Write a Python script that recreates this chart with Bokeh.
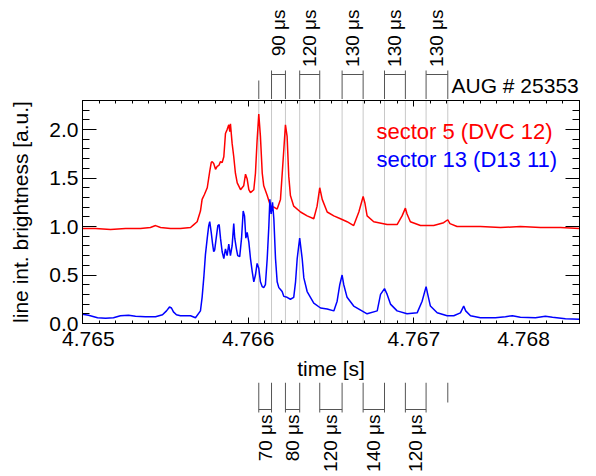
import math
from bokeh.plotting import figure
from bokeh.layouts import column
from bokeh.models import (ColumnDataSource, FixedTicker, PrintfTickFormatter,
                          CustomJSTickFormatter, LinearAxis, Label, LabelSet, Range1d)
from bokeh.core.properties import value
from bokeh.embed import file_html
from bokeh.resources import INLINE

FONT = "Liberation Sans"

# ---------------- data ----------------
time_red = [4.765000, 4.765078, 4.765169, 4.765260, 4.765350, 4.765410, 4.765441, 4.765471,
            4.765531, 4.765591, 4.765652, 4.765672, 4.765692, 4.765712, 4.765722, 4.765736,
            4.765753, 4.765768, 4.765777, 4.765783, 4.765792, 4.765803, 4.765813, 4.765823,
            4.765833, 4.765843, 4.765853, 4.765863, 4.765873, 4.765883, 4.765889, 4.765893,
            4.765903, 4.765913, 4.765923, 4.765934, 4.765954, 4.765973, 4.765984, 4.765994,
            4.766004, 4.766014, 4.766034, 4.766044, 4.766054, 4.766064, 4.766074, 4.766085,
            4.766094, 4.766115, 4.766135, 4.766155, 4.766175, 4.766195, 4.766215, 4.766225,
            4.766235, 4.766245, 4.766255, 4.766275, 4.766316, 4.766356, 4.766396, 4.766416,
            4.766432, 4.766447, 4.766477, 4.766517, 4.766557, 4.766597, 4.766637, 4.766668,
            4.766694, 4.766705, 4.766718, 4.766758, 4.766839, 4.766899, 4.766929, 4.766949,
            4.766959, 4.766979, 4.767040, 4.767120, 4.767180, 4.767205, 4.767218, 4.767261,
            4.767402, 4.767523, 4.767643, 4.767764, 4.767885, 4.768000]
sector5 = [0.98, 0.98, 0.97, 0.98, 0.98, 0.99, 1.01, 0.99,
           0.98, 0.98, 0.99, 1.02, 1.05, 1.16, 1.28, 1.33,
           1.40, 1.57, 1.66, 1.67, 1.65, 1.59, 1.62, 1.63,
           1.67, 1.66, 1.72, 1.96, 2.00, 2.05, 1.98, 2.06,
           1.86, 1.72, 1.55, 1.45, 1.38, 1.42, 1.54, 1.49,
           1.38, 1.35, 1.38, 1.55, 1.89, 2.16, 1.93, 1.55,
           1.42, 1.32, 1.21, 1.20, 1.18, 1.28, 1.79, 2.05,
           1.93, 1.52, 1.32, 1.21, 1.15, 1.11, 1.08, 1.21,
           1.40, 1.28, 1.15, 1.11, 1.08, 1.05, 1.01, 1.15,
           1.31, 1.24, 1.11, 1.05, 1.02, 1.02, 1.11, 1.19,
           1.13, 1.05, 1.01, 1.01, 1.04, 1.07, 1.03, 1.00,
           1.00, 0.99, 1.00, 0.99, 0.99, 0.98]

time_blue = [4.765000, 4.765036, 4.765091, 4.765139, 4.765187, 4.765229, 4.765278, 4.765320,
             4.765380, 4.765441, 4.765483, 4.765507, 4.765525, 4.765537, 4.765549, 4.765567,
             4.765591, 4.765652, 4.765682, 4.765712, 4.765722, 4.765732, 4.765742, 4.765753,
             4.765762, 4.765768, 4.765777, 4.765786, 4.765792, 4.765798, 4.765807, 4.765817,
             4.765825, 4.765833, 4.765843, 4.765853, 4.765863, 4.765873, 4.765883, 4.765893,
             4.765903, 4.765913, 4.765919, 4.765929, 4.765937, 4.765949, 4.765960, 4.765970,
             4.765978, 4.765986, 4.765994, 4.766004, 4.766014, 4.766024, 4.766034, 4.766044,
             4.766054, 4.766064, 4.766074, 4.766085, 4.766094, 4.766104, 4.766115, 4.766125,
             4.766131, 4.766139, 4.766147, 4.766155, 4.766165, 4.766175, 4.766185, 4.766195,
             4.766205, 4.766215, 4.766235, 4.766255, 4.766275, 4.766286, 4.766296, 4.766306,
             4.766311, 4.766326, 4.766336, 4.766356, 4.766376, 4.766396, 4.766437, 4.766477,
             4.766517, 4.766537, 4.766553, 4.766567, 4.766577, 4.766597, 4.766637, 4.766718,
             4.766779, 4.766799, 4.766823, 4.766839, 4.766859, 4.766899, 4.766959, 4.767020,
             4.767050, 4.767074, 4.767084, 4.767100, 4.767141, 4.767201, 4.767241, 4.767281,
             4.767301, 4.767313, 4.767342, 4.767402, 4.767492, 4.767553, 4.767595, 4.767643,
             4.767734, 4.767794, 4.767837, 4.767915, 4.768000]
sector13 = [0.095, 0.085, 0.06, 0.055, 0.06, 0.08, 0.085, 0.075,
            0.07, 0.07, 0.09, 0.13, 0.17, 0.16, 0.12, 0.09,
            0.08, 0.08, 0.06, 0.13, 0.27, 0.47, 0.71, 0.88,
            1.01, 1.05, 0.94, 0.81, 0.74, 0.76, 0.88, 1.01,
            1.02, 0.88, 0.74, 0.67, 0.77, 0.70, 0.82, 0.70,
            0.80, 1.03, 0.88, 0.77, 0.70, 0.69, 0.88, 1.16,
            1.11, 0.88, 0.94, 0.84, 0.67, 0.54, 0.43, 0.50,
            0.62, 0.57, 0.43, 0.38, 0.37, 0.40, 0.67, 1.01,
            1.28, 1.13, 1.25, 1.08, 0.67, 0.43, 0.37, 0.35,
            0.33, 0.28, 0.27, 0.25, 0.27, 0.43, 0.67, 0.81,
            0.88, 0.67, 0.47, 0.33, 0.27, 0.21, 0.16, 0.15,
            0.13, 0.23, 0.40, 0.50, 0.40, 0.27, 0.18, 0.10,
            0.13, 0.30, 0.36, 0.30, 0.20, 0.13, 0.10, 0.11,
            0.23, 0.38, 0.30, 0.18, 0.11, 0.08, 0.08, 0.11,
            0.18, 0.13, 0.08, 0.06, 0.06, 0.07, 0.08, 0.065,
            0.06, 0.075, 0.065, 0.05, 0.045]

# times of the marked events (grey vertical lines)
event_times = [4.766064, 4.766141, 4.766225, 4.766311, 4.766432, 4.766567,
               4.766694, 4.766823, 4.766949, 4.767074, 4.767205]
top_pairs = [(1, 2), (3, 4), (5, 6), (7, 8), (9, 10)]
top_labels = ["90 μs", "120 μs", "130 μs", "130 μs", "130 μs"]
bottom_pairs = [(0, 1), (2, 3), (4, 5), (6, 7), (8, 9)]
bottom_labels = ["70 μs", "80 μs", "120 μs", "140 μs", "120 μs"]

x_major = [4.765, 4.766, 4.767, 4.768]
y_major = [0.0, 0.5, 1.0, 1.5, 2.0]
x_minor = [round(4.765 + 0.0001 * i, 4) for i in range(31)]
y_minor = [round(0.1 * i, 1) for i in range(24)]

series_names = ["sector 5 (DVC 12)", "sector 13 (D13 11)"]
shot_label = "AUG # 25353"
x_title = "time [s]"
y_title = "line int. brightness [a.u.]"

# ---------------- layout constants (pixels) ----------------
W, H = 596, 476
X0, X1 = 4.765, 4.768
Y0, Y1 = 0.0, 2.3
FRAME_LEFT, FRAME_RIGHT = 82, 579
FRAME_TOP, FRAME_BOTTOM = 100, 326
TOP_H = FRAME_TOP - 1               # top strip: page rows 0..99
MAIN_BOTTOM = 382                   # main plot: page rows 99..382
MAIN_H = MAIN_BOTTOM - TOP_H
BOT_H = H - MAIN_BOTTOM             # bottom strip: page rows 382..476
SEC_PER_PX = (X1 - X0) / (FRAME_RIGHT - FRAME_LEFT)
GREY_LIGHT, GREY_DARK = "#c8c8c8", "#555555"
NBSP = "\u00a0"


def row_to_y(py):
    return Y1 - (py - FRAME_TOP) * (Y1 - Y0) / (FRAME_BOTTOM - FRAME_TOP)


# ---------------- main plot ----------------
p = figure(width=W, height=MAIN_H, x_range=Range1d(X0, X1), y_range=Range1d(Y0, Y1),
           output_backend="svg", toolbar_location=None,
           min_border_left=FRAME_LEFT, min_border_right=W - FRAME_RIGHT,
           min_border_top=FRAME_TOP - TOP_H, min_border_bottom=MAIN_BOTTOM - FRAME_BOTTOM,
           x_axis_label=x_title, y_axis_label=y_title)
p.background_fill_color = "white"
p.border_fill_color = "white"
p.outline_line_color = None
p.grid.visible = False


def strip(height, row_top, row_bottom):
    s = figure(width=W, height=height, x_range=p.x_range,
               y_range=Range1d(row_bottom, row_top),   # y measured in page rows
               x_axis_location=None, y_axis_location=None,
               output_backend="svg", toolbar_location=None,
               min_border_left=FRAME_LEFT, min_border_right=W - FRAME_RIGHT,
               min_border_top=0, min_border_bottom=0)
    s.outline_line_color = None
    s.background_fill_color = "white"
    s.border_fill_color = "white"
    for g in s.grid:
        g.visible = False
    return s


# grey event lines behind the data
n = len(event_times)
p.segment(x0=event_times, y0=[Y0] * n, x1=event_times, y1=[Y1] * n,
          line_color=GREY_LIGHT, line_width=1)

p.line(time_red, sector5, line_color="#ff0000", line_width=1.5)
p.line(time_blue, sector13, line_color="#0000ff", line_width=1.5)

xt = FixedTicker(ticks=x_major, minor_ticks=x_minor)
yt = FixedTicker(ticks=y_major, minor_ticks=y_minor)


def style_axis(ax, ticker, major_in, minor_in, labels):
    ax.ticker = ticker
    ax.axis_line_color = "black"
    ax.axis_line_width = 1
    ax.major_tick_in = major_in
    ax.major_tick_out = 0
    ax.minor_tick_in = minor_in
    ax.minor_tick_out = 0
    ax.major_tick_line_color = "black"
    ax.minor_tick_line_color = "black"
    ax.major_label_text_font = FONT
    ax.major_label_text_color = "black"
    ax.axis_label_text_font = FONT
    ax.axis_label_text_font_size = "21px"
    ax.axis_label_text_font_style = "normal"
    ax.axis_label_text_color = "black"
    if labels:
        ax.major_label_text_font_size = "21px"
    else:
        ax.formatter = CustomJSTickFormatter(code="return ''")
        ax.major_label_text_font_size = "0px"
        ax.major_label_standoff = 0


ly = p.yaxis[0]
style_axis(ly, yt, 14, 7, True)
ly.formatter = PrintfTickFormatter(format="%.1f")
ly.major_label_standoff = 4
ly.axis_label_standoff = 14

bx = p.xaxis[0]
style_axis(bx, xt, 6, 3, True)
bx.formatter = PrintfTickFormatter(format="%.3f")
bx.major_label_standoff = 3
bx.axis_label_standoff = 4
# the end labels sit inside the axis span, as in the original figure
bx.major_label_overrides = {4.765: NBSP * 2 + "4.765", 4.768: "4.768" + NBSP * 8}

top_ax = LinearAxis()
style_axis(top_ax, xt, 6, 3, False)
p.add_layout(top_ax, "above")

right_ax = LinearAxis()
style_axis(right_ax, yt, 14, 7, False)
p.add_layout(right_ax, "right")

legend_x = X0 + (376 - FRAME_LEFT) * SEC_PER_PX
p.add_layout(Label(x=legend_x, y=row_to_y(131), text=series_names[0], text_align="left",
                   text_baseline="middle", text_font=FONT, text_font_size="22px",
                   text_color="#ff0000"))
p.add_layout(Label(x=legend_x, y=row_to_y(160), text=series_names[1], text_align="left",
                   text_baseline="middle", text_font=FONT, text_font_size="22px",
                   text_color="#0000ff"))

# ---------------- top strip: brackets and spacings ----------------
top = strip(TOP_H, 0, TOP_H)
top.segment(x0=event_times, x1=event_times,
            y0=[80 if i == 0 else 70 for i in range(n)], y1=[TOP_H] * n,
            line_color=GREY_DARK, line_width=1)
top.segment(x0=[event_times[a] for a, b in top_pairs], x1=[event_times[b] for a, b in top_pairs],
            y0=[74] * len(top_pairs), y1=[74] * len(top_pairs),
            line_color=GREY_DARK, line_width=1)
top.add_layout(LabelSet(x="x", y="y", text="text", angle=math.pi / 2,
                        source=ColumnDataSource(dict(
                            x=[(event_times[a] + event_times[b]) / 2 for a, b in top_pairs],
                            y=[9] * len(top_pairs), text=top_labels)),
                        text_align="right", text_baseline="middle",
                        text_font=value(FONT), text_font_size=value("19px"), text_color="black"))
top.add_layout(Label(x=X0 + (451 - FRAME_LEFT) * SEC_PER_PX, y=96, text=shot_label,
                     text_align="left", text_baseline="bottom",
                     text_font=FONT, text_font_size="21px", text_color="black"))

# ---------------- bottom strip: spacings ----------------
bot = strip(BOT_H, MAIN_BOTTOM, H)
bot.segment(x0=event_times, x1=event_times, y0=[MAIN_BOTTOM] * n,
            y1=[402 if i == n - 1 else 412 for i in range(n)],
            line_color=GREY_DARK, line_width=1)
bot.segment(x0=[event_times[a] for a, b in bottom_pairs], x1=[event_times[b] for a, b in bottom_pairs],
            y0=[409] * len(bottom_pairs), y1=[409] * len(bottom_pairs),
            line_color=GREY_DARK, line_width=1)
bot.add_layout(LabelSet(x="x", y="y", text="text", angle=math.pi / 2,
                        source=ColumnDataSource(dict(
                            x=[(event_times[a] + event_times[b]) / 2 for a, b in bottom_pairs],
                            y=[414] * len(bottom_pairs), text=bottom_labels)),
                        text_align="right", text_baseline="middle",
                        text_font=value(FONT), text_font_size=value("19px"), text_color="black"))

layout = column(top, p, bot, spacing=0)
open("out.html", "w").write(file_html(layout, INLINE))
